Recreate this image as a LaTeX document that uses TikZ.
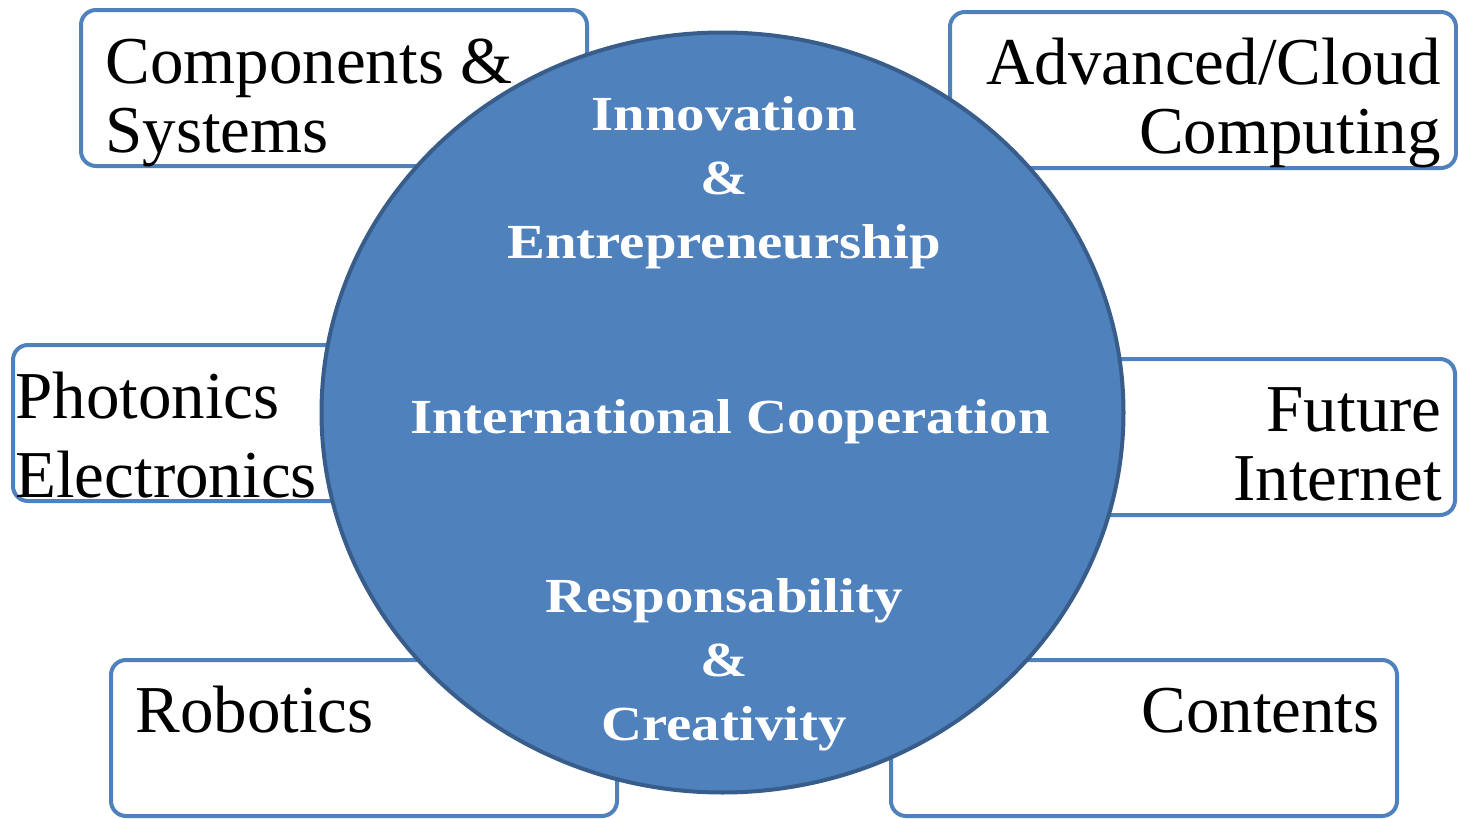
\documentclass[tikz,border=0pt]{standalone}
\usepackage{fontspec}
\setmainfont{Liberation Serif}
\newfontfamily\hubfont[FakeStretch=1.16]{Liberation Serif}
\usetikzlibrary{shapes.geometric}
\definecolor{Hub}{RGB}{79,129,189}
\definecolor{HubEdge}{RGB}{56,93,138}

\begin{document}
\begin{tikzpicture}[x=0.5pt, y=-0.5pt,
    area/.style={draw=Hub, line width=2pt, rounded corners=7.5pt, fill=white,
        minimum width=253pt, minimum height=78pt},
    areatext/.style={inner sep=0pt, font=\fontsize{33.5}{34.5}\selectfont},
    hubtext/.style={inner sep=0pt, align=center, text=white,
        font=\hubfont\bfseries\fontsize{24.5}{32}\selectfont}]
    \useasboundingbox (0,0) rectangle (1458,819);

    % Research areas
    \node[area] (comp) at (334,88) {};
    \node[area] (cloud) at (1203,90) {};
    \node[area] (phot) at (266,423) {};
    \node[area] (inet) at (1202,437) {};
    \node[area] (robo) at (364,738) {};
    \node[area] (cont) at (1144,738) {};

    \node[areatext, anchor=base west, align=left] (comptext) at (105,152) {Components \&\\Systems};
    \node[areatext, anchor=base east, align=right] (cloudtext) at (1441,153) {Advanced/Cloud\\Computing};
    \node[areatext, anchor=base west, align=left] (phottext) at (15,497) {Photonics\\[5pt]Electronics};
    \node[areatext, anchor=base east, align=right] (inettext) at (1442,500) {Future\\Internet};
    \node[areatext, anchor=base west] (robotext) at (135,732) {Robotics};
    \node[areatext, anchor=base east] (conttext) at (1380,732) {Contents};

    % Central hub
    \node[ellipse, draw=HubEdge, line width=2pt, fill=Hub, minimum width=401pt, minimum height=380pt] (hub) at (722.5,412.5) {};
    \node[hubtext, anchor=base] (innov) at (724,258) {Innovation\\\&\\Entrepreneurship};
    \node[hubtext, anchor=base] (coop) at (730,433) {International Cooperation};
    \node[hubtext, anchor=base] (resp) at (724,740) {Responsability\\\&\\Creativity};
\end{tikzpicture}
\end{document}
